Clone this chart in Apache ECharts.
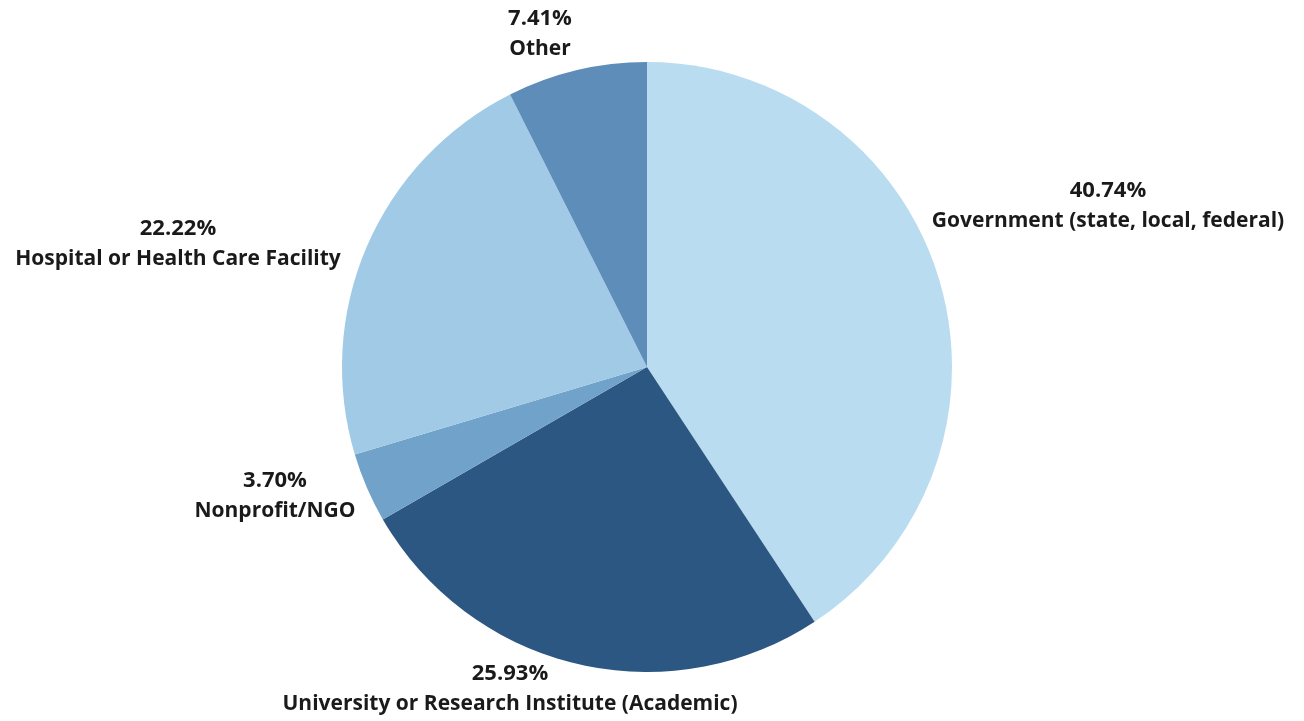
<!DOCTYPE html>
<html>
<head>
<meta charset="utf-8">
<style>
  html, body { margin: 0; padding: 0; background: #fff; }
  #echart { width: 1304px; height: 721px; }
</style>
<script src="https://cdn.jsdelivr.net/npm/echarts@6/dist/echarts.min.js"></script>
</head>
<body>
<div id="echart"></div>
<script>
var categories = [
    "Government (state, local, federal)",
    "University or Research Institute (Academic)",
    "Nonprofit/NGO",
    "Hospital or Health Care Facility",
    "Other"
];
var shares = [40.74, 25.93, 3.70, 22.22, 7.41];
var sliceColors = ["#b9dcf0", "#2c5783", "#71a2c9", "#a0cae5", "#5e8dba"];

// label centre offsets from the pie centre (px)
var labelOffsets = [[461, -161], [-137, 322], [-372, 129], [-469, -123], [-107, -333]];

var pieCenter = [647, 367];

var chartDom = document.getElementById('echart');
var myChart = echarts.init(chartDom);

var option = {
    animation: false,
    series: [{
        type: "pie",
        center: pieCenter,
        radius: 305,
        startAngle: 90,
        clockwise: true,
        avoidLabelOverlap: false,
        itemStyle: { borderWidth: 0 },
        label: {
            show: true,
            position: "outside",
            formatter: function (p) {
                return "{pct|" + p.value.toFixed(2) + "%}\n{name|" + p.name + "}";
            },
            rich: {
                pct: { fontFamily: "Open Sans", fontSize: 22, fontWeight: "bold", color: "#1a1a1a", align: "center", lineHeight: 30 },
                name: { fontFamily: "Open Sans", fontSize: 21, fontWeight: "bold", color: "#1a1a1a", align: "center", lineHeight: 30 }
            }
        },
        labelLine: { show: false },
        labelLayout: function (params) {
            var off = labelOffsets[params.dataIndex];
            return {
                x: pieCenter[0] + off[0],
                y: pieCenter[1] + off[1],
                align: "center",
                verticalAlign: "middle"
            };
        },
        data: categories.map(function (c, i) {
            return { name: c, value: shares[i], itemStyle: { color: sliceColors[i] } };
        })
    }]
};

myChart.setOption(option);

window.addEventListener("resize", function () {
    myChart.resize();
});
</script>
</body>
</html>
